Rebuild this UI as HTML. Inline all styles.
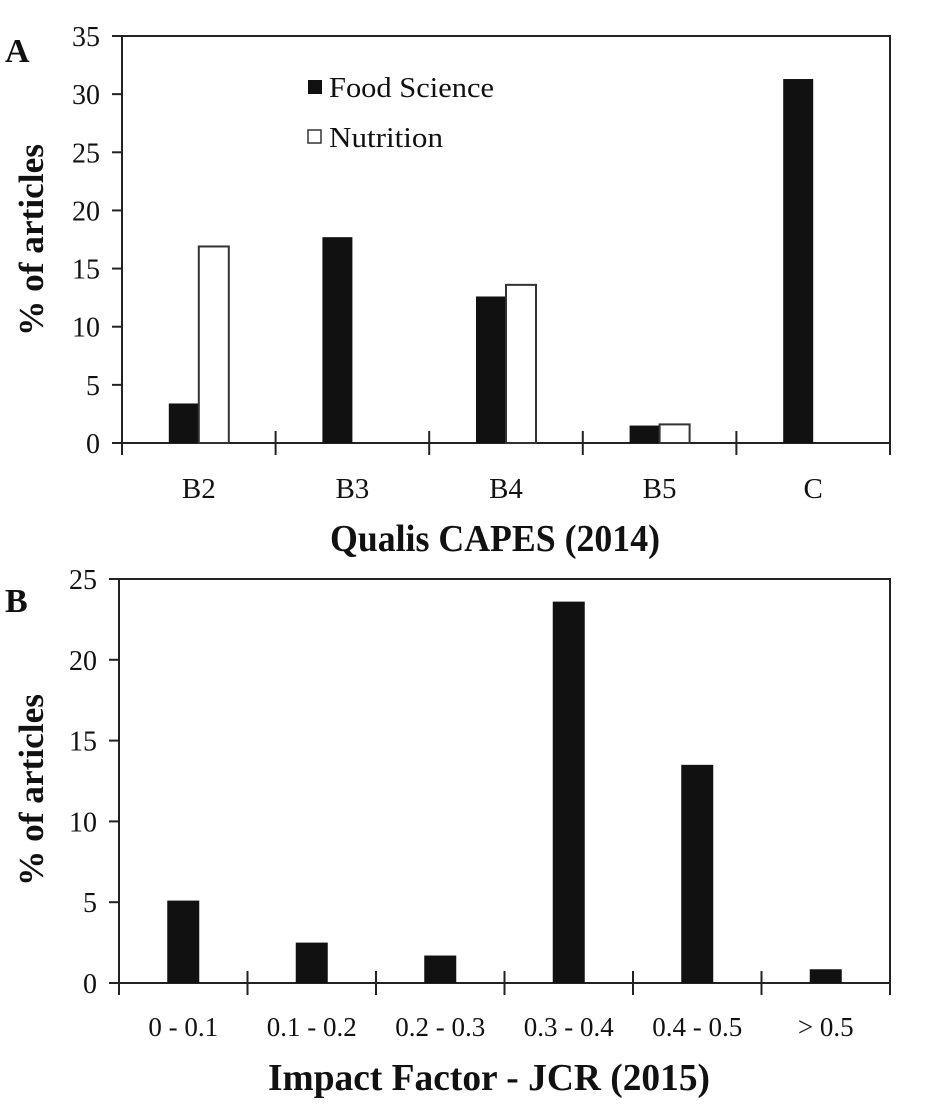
<!DOCTYPE html>
<html><head><meta charset="utf-8"><style>
body{margin:0;background:#fff}
svg{display:block}
svg text{font-family:"Liberation Serif","Times New Roman",serif}
</style></head><body>
<svg id="c" width="934" height="1108" viewBox="0 0 934 1108" font-family="Liberation Serif, serif"></svg>
<script>
const catsA=["B2","B3","B4","B5","C"];
const foodA=[3.4,17.7,12.6,1.5,31.3];
const nutA=[16.9,0,13.6,1.6,0];
const ticksA=[0,5,10,15,20,25,30,35];
const catsB=["0 - 0.1","0.1 - 0.2","0.2 - 0.3","0.3 - 0.4","0.4 - 0.5","> 0.5"];
const valsB=[5.1,2.5,1.7,23.6,13.5,0.85];
const ticksB=[0,5,10,15,20,25];

const svg=document.getElementById('c');
const NS='http://www.w3.org/2000/svg';
function mk(tag,attrs,parent){const e=document.createElementNS(NS,tag);for(const k in attrs)e.setAttribute(k,attrs[k]);(parent||svg).appendChild(e);return e;}
function txt(s,attrs,parent){attrs['font-family']='Liberation Serif, serif';const e=mk('text',attrs,parent);e.textContent=s;return e;}

function panel(o){
  const g=mk('g',{});
  
  
  const y=v=>o.bottom-(v/o.max)*(o.bottom-o.top);
  const bw=(o.right-o.left)/o.cats.length;
  const x=i=>o.left+bw*i;
  const frame=mk('rect',{x:o.left,y:o.top,width:o.right-o.left,height:o.bottom-o.top,fill:'none',stroke:'#222','stroke-width':2},g);
  
  
  o.ticks.forEach(t=>{
    const l=mk('line',{x1:o.left-10,x2:o.left,y1:y(t),y2:y(t),stroke:'#222','stroke-width':2},g);
    
    
    const tl=txt(String(t),{x:o.left-22,y:y(t)+10,'font-size':28,'text-anchor':'end',fill:'#111'},g);
    
    
  });
  for(let i=0;i<=o.cats.length;i++){
    const l=mk('line',{x1:x(i),x2:x(i),y1:o.bottom-12,y2:o.bottom+12,stroke:'#222','stroke-width':2},g);
    
    
  }
  o.cats.forEach((c,i)=>{
    const tl=txt(c,{x:x(i)+bw/2,y:o.labelY,'font-size':o.labelSize,'text-anchor':'middle',fill:'#111'},g);
    
    
  });
  o.series.forEach((s,si)=>{
    s.vals.forEach((v,i)=>{
      if(v<=0)return;
      const n=o.series.length;
      const bx=x(i)+bw/2-(n*o.barW)/2+si*o.barW;
      const r=mk('rect',{x:bx,y:y(v),width:o.barW,height:o.bottom-y(v),fill:s.fill,stroke:s.stroke,'stroke-width':s.fill==='#fff'?2:0},g);
      
      
    });
  });
  const xt=txt(o.xTitle,{x:o.xTitleX,y:o.xTitleY,'font-size':38,'font-weight':'bold','text-anchor':'middle',fill:'#111',textLength:o.xTitleW,lengthAdjust:'spacingAndGlyphs'},g);
  
  
  const yt=txt('% of articles',{x:0,y:0,'font-size':35,'font-weight':'bold','text-anchor':'middle',fill:'#111',textLength:192,lengthAdjust:'spacingAndGlyphs',transform:`translate(43,${o.yTitleC}) rotate(-90)`},g);
  
  
  const pl=txt(o.letter,{x:5,y:o.letterY,'font-size':34,'font-weight':'bold',fill:'#111'},g);
  
  
}

panel({name:'panel-a',left:122,right:890,top:36,bottom:443,max:35,cats:catsA,ticks:ticksA,barW:30,labelSize:29,
  series:[{key:'food-science',vals:foodA,fill:'#111',stroke:'#111'},{key:'nutrition',vals:nutA,fill:'#fff',stroke:'#333'}],
  labelY:498,xTitle:'Qualis CAPES (2014)',xTitleX:495,xTitleY:551,xTitleW:330,yTitleC:240,letter:'A',letterY:62});

panel({name:'panel-b',left:119,right:890,top:579,bottom:983,max:25,cats:catsB,ticks:ticksB,barW:32,labelSize:27,
  series:[{key:'food-science',vals:valsB,fill:'#111',stroke:'#111'}],
  labelY:1036,xTitle:'Impact Factor - JCR (2015)',xTitleX:489,xTitleY:1090,xTitleW:442,yTitleC:790,letter:'B',letterY:612});

const lg=mk('g',{});


const s1=mk('rect',{x:308,y:80,width:14,height:14,fill:'#111'},lg);


const t1=txt('Food Science',{x:329,y:97,'font-size':28,fill:'#111',textLength:165,lengthAdjust:'spacingAndGlyphs'},lg);


const s2=mk('rect',{x:308,y:130,width:13,height:13,fill:'#fff',stroke:'#333','stroke-width':1.5},lg);


const t2=txt('Nutrition',{x:329,y:147,'font-size':28,fill:'#111',textLength:114,lengthAdjust:'spacingAndGlyphs'},lg);


</script>
</body></html>
